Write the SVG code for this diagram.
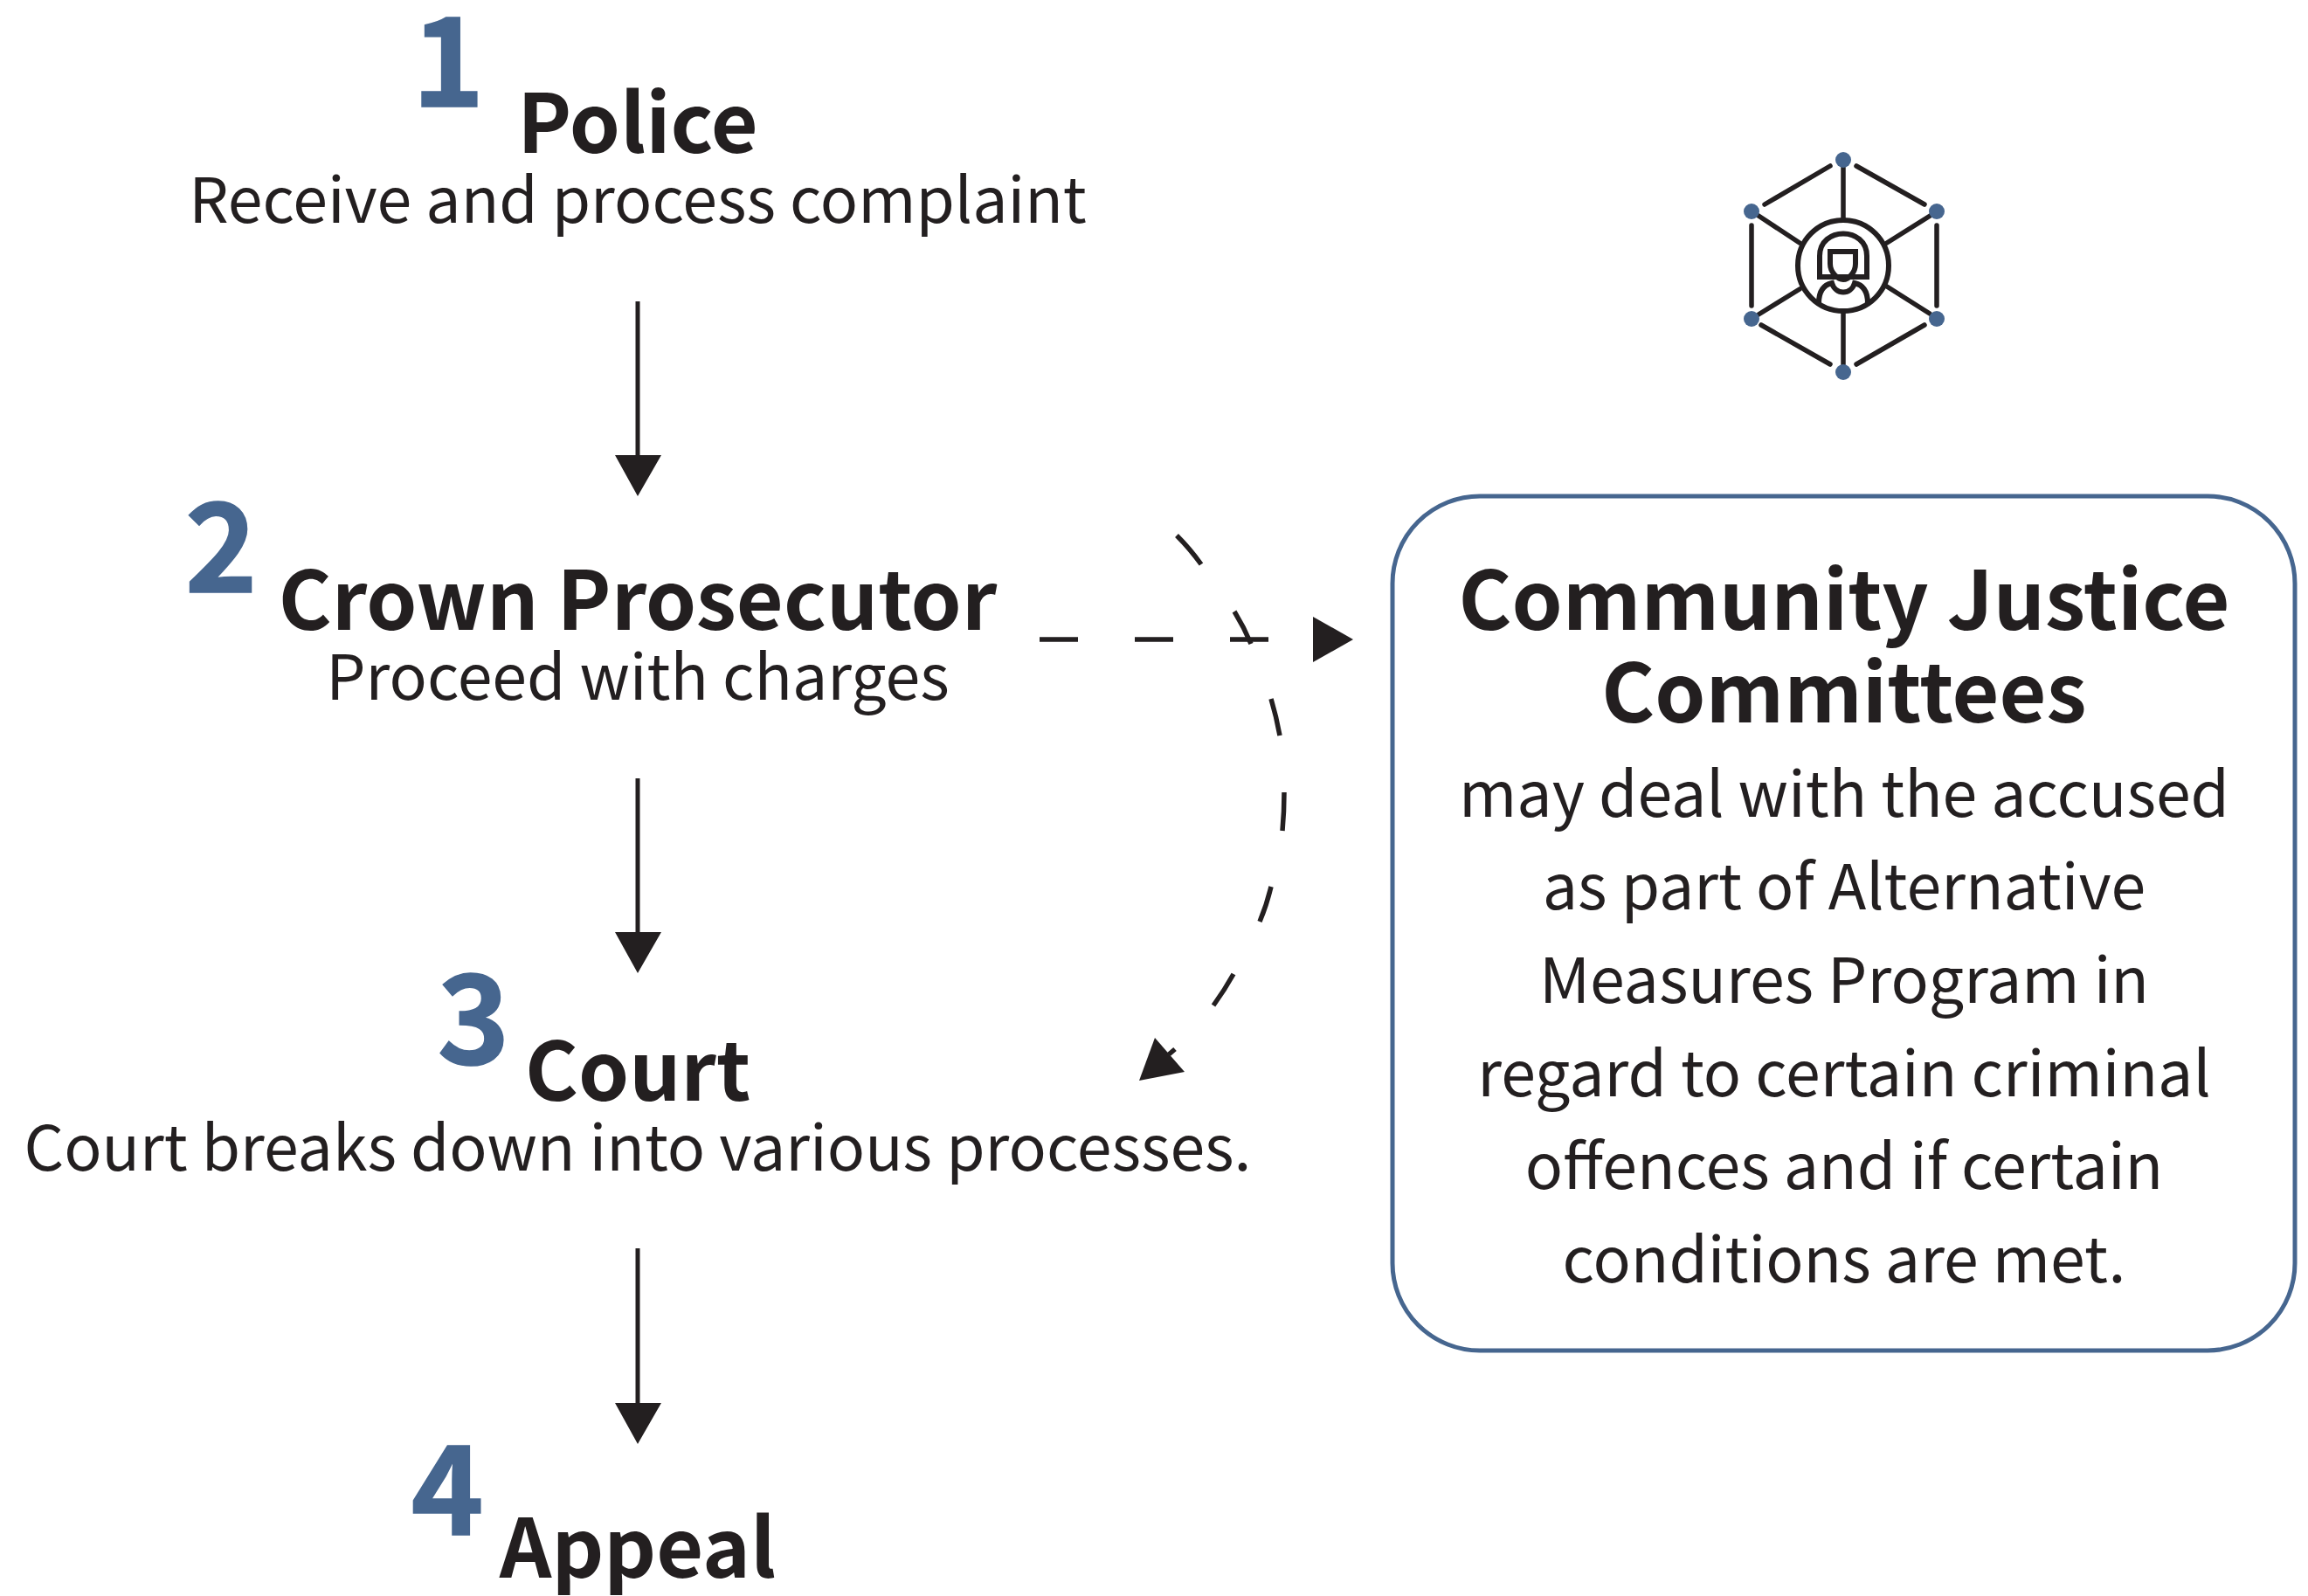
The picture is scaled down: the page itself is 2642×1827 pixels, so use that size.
<svg xmlns="http://www.w3.org/2000/svg" width="2642" height="1827" viewBox="0 0 2642 1827">
<style>
text{font-family:"Noto Sans CJK SC","Noto Sans",sans-serif;fill:#231f20;text-anchor:middle}
.t{font-size:93px;font-weight:700}
.b{font-size:71.6px;font-weight:400}
.n{font-size:141px;font-weight:700;fill:#46668f;stroke:#46668f;stroke-width:1.5}
.c{fill:none;stroke:#231f20;stroke-width:5}
.d{fill:none;stroke:#231f20;stroke-width:5.5}
.p{fill:none;stroke:#231f20;stroke-width:6}
.i{fill:none;stroke:#231f20;stroke-width:5.5;stroke-linecap:round}
.h{fill:#231f20}
.o{fill:#46668f}
</style>
<g id="node-1"><text class="n" x="513" y="122">1</text><text class="t" x="730" y="175">Police</text><text class="b" x="730" y="255">Receive and process complaint</text></g>
<g id="node-2"><text class="n" x="253" y="678">2</text><text class="t" x="730" y="721">Crown Prosecutor</text><text class="b" x="730" y="801">Proceed with charges</text></g>
<g id="node-3"><text class="n" x="542" y="1218">3</text><text class="t" x="730" y="1260">Court</text><text class="b" x="730" y="1340">Court breaks down into various processes.</text></g>
<g id="node-4"><text class="n" x="512" y="1757">4</text><text class="t" x="730" y="1806">Appeal</text></g>
<g id="node-5">
<rect x="1594" y="568" width="1033" height="978" rx="100" fill="none" stroke="#46668f" stroke-width="5"/>
<text class="t" x="2111" y="721">Community Justice</text><text class="t" x="2111" y="827">Committees</text>
<text class="b" x="2111" y="935">may deal with the accused</text>
<text class="b" x="2111" y="1041">as part of Alternative</text>
<text class="b" x="2111" y="1148">Measures Program in</text>
<text class="b" x="2111" y="1255">regard to certain criminal</text>
<text class="b" x="2111" y="1361">offences and if certain</text>
<text class="b" x="2111" y="1468">conditions are met.</text>
</g>
<g id="icon">
<path class="i" d="M2020 234L2095 190M2125 190L2203 234M2217 258V350M2203 372L2125 417M2095 417L2016 372M2005 350V258M2110 192V250M2110 358V417M2013 247L2060 278M2160 278L2211 246M2013 360L2060 331M2160 328L2209 359"/>
<circle class="p" cx="2110" cy="304" r="52"/>
<path class="p" d="M2083 317V293C2083 259 2137 259 2137 293V317ZM2095 288H2124V302C2124 312 2116 320 2110 320C2104 320 2095 312 2095 302Z"/>
<path class="p" d="M2082 347C2082 333 2088 326 2097 324C2101 338 2119 338 2123 324C2132 326 2138 333 2138 347"/>
<circle class="o" cx="2110" cy="183" r="9"/><circle class="o" cx="2217" cy="242" r="9"/><circle class="o" cx="2217" cy="365" r="9"/><circle class="o" cx="2110" cy="426" r="9"/><circle class="o" cx="2005" cy="365" r="9"/><circle class="o" cx="2005" cy="242" r="9"/>
</g>
<g id="connectors">
<path class="c" d="M730 345V525M730 891V1069M730 1429V1608"/>
<path class="h" d="M704 521H757L730 568ZM704 1067H757L730 1114ZM704 1606H757L730 1653Z"/>
<path class="d" d="M1190 732H1234M1299 732H1343M1408 732H1452"/>
<path class="h" d="M1503 706L1549 732L1503 758Z"/>
<path class="d" d="M1347 613Q1362 628 1375 646M1413 700Q1424 718 1432 737M1455 800Q1461 820 1465 842M1470 907Q1470 929 1468 951M1455 1015Q1450 1036 1442 1055M1412 1115Q1402 1133 1389 1151M1345 1201L1338 1207"/>
<path class="h" d="M1322 1188L1356 1227L1304 1237Z"/>
</g>
</svg>
